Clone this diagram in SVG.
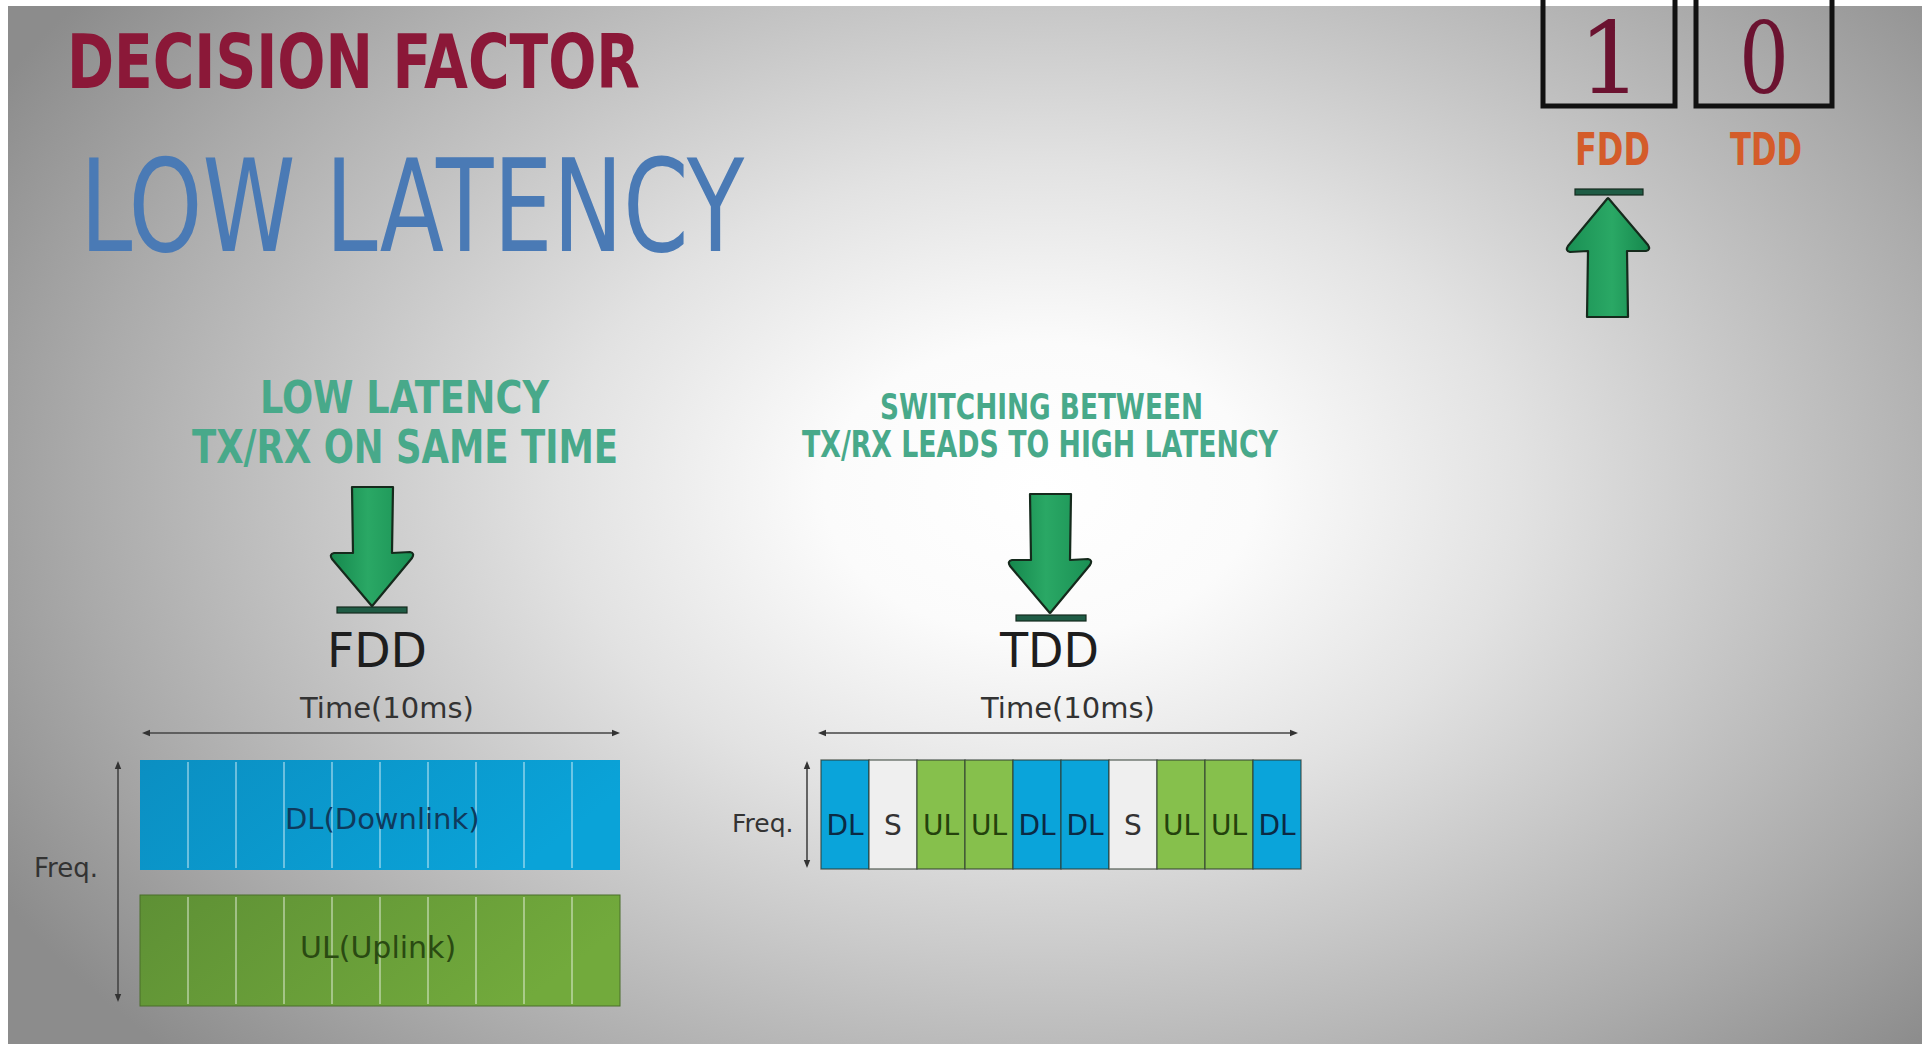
<svg xmlns="http://www.w3.org/2000/svg" width="1922" height="1048" viewBox="0 0 1922 1048">
  <defs>
    <radialGradient id="bg" gradientUnits="userSpaceOnUse" cx="1040" cy="490" r="1200" gradientTransform="translate(1040 490) scale(1 0.68) translate(-1040 -490)">
      <stop offset="0" stop-color="#ffffff"/>
      <stop offset="0.18" stop-color="#fbfbfb"/>
      <stop offset="0.4" stop-color="#e2e2e2"/>
      <stop offset="0.6" stop-color="#c6c6c6"/>
      <stop offset="0.8" stop-color="#aaaaaa"/>
      <stop offset="1" stop-color="#8c8c8c"/>
    </radialGradient>
    <linearGradient id="arrowFill" x1="0" y1="0" x2="1" y2="0">
      <stop offset="0" stop-color="#15884d"/>
      <stop offset="0.45" stop-color="#2aa865"/>
      <stop offset="1" stop-color="#1a9054"/>
    </linearGradient>
    <linearGradient id="dlFill" x1="0" y1="0" x2="1" y2="0.3">
      <stop offset="0" stop-color="#0b8fc2"/>
      <stop offset="1" stop-color="#0aa3d8"/>
    </linearGradient>
    <linearGradient id="ulFill" x1="0" y1="0" x2="1" y2="0.3">
      <stop offset="0" stop-color="#5e9035"/>
      <stop offset="1" stop-color="#72aa3c"/>
    </linearGradient>
    <!-- block arrow pointing down, tip at the origin -->
    <path id="downArrow" d="M-20,-122 L21,-122 L20,-56 L38,-57 Q43,-56 40,-51 L1,-4 Q0,-2 -1,-4 L-40,-50 Q-43,-55 -38,-56 L-19,-56 Z"/>
    <marker id="tick" viewBox="0 0 10 10" refX="5" refY="5" markerWidth="5" markerHeight="5" orient="auto-start-reverse">
      <path d="M0,1 L10,5 L0,9 Z" fill="#333"/>
    </marker>
    <style>
      .head { font-family: "DejaVu Sans Condensed", "DejaVu Sans", "Liberation Sans", sans-serif; font-stretch: condensed; font-weight: bold; }
      .teal { fill: #48a98a; }
      .plain { font-family: "DejaVu Sans", "Liberation Sans", sans-serif; }
      .digit { font-family: "DejaVu Serif", "Liberation Serif", serif; font-size: 100px; fill: #6b1230; text-anchor: middle; }
      .axis { stroke: #444; stroke-width: 1.6; fill: none; marker-start: url(#tick); marker-end: url(#tick); }
      .arrow { fill: url(#arrowFill); stroke: #152a1c; stroke-width: 2.2; stroke-linejoin: round; }
      .base { fill: #1f5c45; stroke: #142a1e; stroke-width: 1.2; }
      .slotDL { fill: #0aa4da; }
      .slotUL { fill: #86c04c; }
      .slotS { fill: #efefef; }
      .slot { stroke: #2e3a30; stroke-width: 1.3; stroke-opacity: 0.75; }
      .div { stroke: #ffffff; stroke-opacity: 0.4; stroke-width: 2; }
      .slotText { font-family: "DejaVu Sans", "Liberation Sans", sans-serif; font-size: 28px; text-anchor: middle; }
      .box { fill: none; stroke: #111; stroke-width: 5; }
    </style>
  </defs>

  <!-- backdrop -->
  <rect x="0" y="0" width="1922" height="1048" fill="url(#bg)"/>
  <rect x="0" y="0" width="1922" height="6" fill="#ffffff"/>
  <rect x="0" y="0" width="8" height="1048" fill="#ffffff"/>
  <rect x="0" y="1044" width="1922" height="4" fill="#ffffff"/>

  <g id="title">
    <text class="head" x="67" y="88" font-size="74" fill="#8b1838" textLength="573" lengthAdjust="spacingAndGlyphs">DECISION FACTOR</text>
  </g>

  <g id="headline">
    <text x="80" y="251" font-family="'DejaVu Sans Condensed', 'DejaVu Sans', sans-serif" font-stretch="condensed" font-size="129" fill="#4a7ab5" textLength="664" lengthAdjust="spacingAndGlyphs">LOW LATENCY</text>
  </g>

  <g id="score">
    <rect class="box" x="1543" y="-10" width="132" height="116"/>
    <rect class="box" x="1696" y="-10" width="136" height="116"/>
    <text class="digit" x="1610" y="93">1</text>
    <text class="digit" x="1764" y="93" textLength="50" lengthAdjust="spacingAndGlyphs">0</text>
    <text class="head" x="1575" y="165" font-size="44" fill="#d45c2a" textLength="75" lengthAdjust="spacingAndGlyphs">FDD</text>
    <text class="head" x="1730" y="165" font-size="44" fill="#d45c2a" textLength="72" lengthAdjust="spacingAndGlyphs">TDD</text>
  </g>

  <g id="fdd-panel">
    <text class="head teal" x="260" y="413" font-size="45" textLength="289" lengthAdjust="spacingAndGlyphs">LOW LATENCY</text>
    <text class="head teal" x="192" y="463" font-size="46" textLength="426" lengthAdjust="spacingAndGlyphs">TX/RX ON SAME TIME</text>
    <text class="plain" x="327" y="667" font-size="48" fill="#1e1e1e" textLength="100" lengthAdjust="spacingAndGlyphs">FDD</text>
    <text class="plain" x="300" y="718" font-size="29" fill="#333">Time(10ms)</text>
    <text class="plain" x="34" y="877" font-size="26" fill="#333">Freq.</text>
    <line class="axis" x1="146" y1="733" x2="616" y2="733"/>
    <line class="axis" x1="118" y1="765" x2="118" y2="998"/>
    <rect x="140" y="760" width="480" height="110" fill="url(#dlFill)"/>
    <rect x="140" y="895" width="480" height="111" fill="url(#ulFill)" stroke="#4a6e2a" stroke-width="1"/>
    <g class="div">
      <line x1="188" y1="762" x2="188" y2="868"/><line x1="236" y1="762" x2="236" y2="868"/>
      <line x1="284" y1="762" x2="284" y2="868"/><line x1="332" y1="762" x2="332" y2="868"/>
      <line x1="380" y1="762" x2="380" y2="868"/><line x1="428" y1="762" x2="428" y2="868"/>
      <line x1="476" y1="762" x2="476" y2="868"/><line x1="524" y1="762" x2="524" y2="868"/>
      <line x1="572" y1="762" x2="572" y2="868"/>
      <line x1="188" y1="897" x2="188" y2="1004"/><line x1="236" y1="897" x2="236" y2="1004"/>
      <line x1="284" y1="897" x2="284" y2="1004"/><line x1="332" y1="897" x2="332" y2="1004"/>
      <line x1="380" y1="897" x2="380" y2="1004"/><line x1="428" y1="897" x2="428" y2="1004"/>
      <line x1="476" y1="897" x2="476" y2="1004"/><line x1="524" y1="897" x2="524" y2="1004"/>
      <line x1="572" y1="897" x2="572" y2="1004"/>
    </g>
    <text class="plain" x="285" y="829" font-size="29" fill="#0f3a5c">DL(Downlink)</text>
    <text class="plain" x="300" y="958" font-size="30" fill="#2a4a12">UL(Uplink)</text>
  </g>

  <g id="tdd-panel">
    <text class="head teal" x="880" y="419" font-size="36" textLength="323" lengthAdjust="spacingAndGlyphs">SWITCHING BETWEEN</text>
    <text class="head teal" x="802" y="457" font-size="37" textLength="476" lengthAdjust="spacingAndGlyphs">TX/RX LEADS TO HIGH LATENCY</text>
    <text class="plain" x="1000" y="667" font-size="48" fill="#1e1e1e" textLength="99" lengthAdjust="spacingAndGlyphs">TDD</text>
    <text class="plain" x="981" y="718" font-size="29" fill="#333">Time(10ms)</text>
    <text class="plain" x="732" y="832" font-size="25" fill="#333">Freq.</text>
    <line class="axis" x1="822" y1="733" x2="1294" y2="733"/>
    <line class="axis" x1="807" y1="765" x2="807" y2="864"/>
    <g class="slot">
      <rect class="slotDL" x="821" y="760" width="48" height="109"/>
      <rect class="slotS" x="869" y="760" width="48" height="109"/>
      <rect class="slotUL" x="917" y="760" width="48" height="109"/>
      <rect class="slotUL" x="965" y="760" width="48" height="109"/>
      <rect class="slotDL" x="1013" y="760" width="48" height="109"/>
      <rect class="slotDL" x="1061" y="760" width="48" height="109"/>
      <rect class="slotS" x="1109" y="760" width="48" height="109"/>
      <rect class="slotUL" x="1157" y="760" width="48" height="109"/>
      <rect class="slotUL" x="1205" y="760" width="48" height="109"/>
      <rect class="slotDL" x="1253" y="760" width="48" height="109"/>
    </g>
    <g class="slotText">
      <text x="845" y="835" fill="#0b2a44">DL</text>
      <text x="893" y="835" fill="#333">S</text>
      <text x="941" y="835" fill="#24420c">UL</text>
      <text x="989" y="835" fill="#24420c">UL</text>
      <text x="1037" y="835" fill="#0b2a44">DL</text>
      <text x="1085" y="835" fill="#0b2a44">DL</text>
      <text x="1133" y="835" fill="#333">S</text>
      <text x="1181" y="835" fill="#24420c">UL</text>
      <text x="1229" y="835" fill="#24420c">UL</text>
      <text x="1277" y="835" fill="#0b2a44">DL</text>
    </g>
  </g>

  <g id="connectors">
    <!-- FDD pointer -->
    <rect class="base" x="337" y="607" width="70" height="6"/>
    <use href="#downArrow" class="arrow" transform="translate(372 609)"/>
    <!-- TDD pointer -->
    <rect class="base" x="1016" y="615" width="70" height="6"/>
    <use href="#downArrow" class="arrow" transform="translate(1050 616)"/>
    <!-- score pointer under FDD -->
    <rect class="base" x="1575" y="189" width="68" height="6"/>
    <use href="#downArrow" class="arrow" transform="translate(1608 195) rotate(180)"/>
  </g>
</svg>
